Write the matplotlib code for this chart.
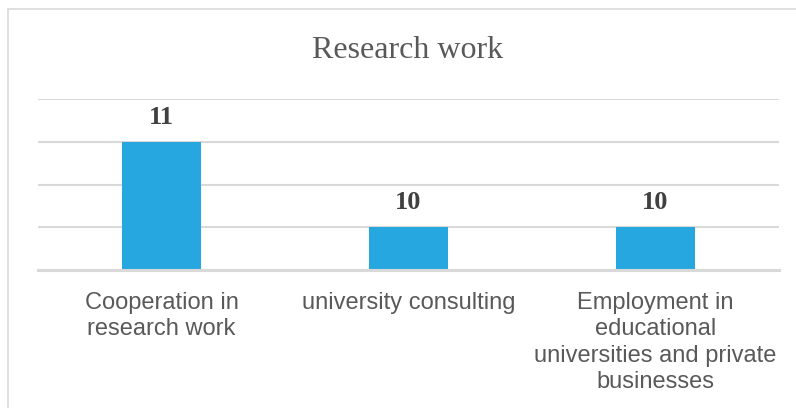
import matplotlib.pyplot as plt
from matplotlib.patches import Rectangle

categories = ["Cooperation in\nresearch work",
              "university consulting",
              "Employment in\neducational\nuniversities and private\nbusinesses"]
counts = [11, 10, 10]

fig = plt.figure(figsize=(7.96, 4.08), dpi=100)
fig.patches.append(Rectangle((8 / 796, -0.1), 1.2, 1 - 9 / 408 + 0.1,
                             transform=fig.transFigure, fill=False,
                             edgecolor="#d9d9d9", linewidth=1.2))

ax = fig.add_axes([38 / 796, 1 - 270 / 408, (779 - 38) / 796, (270 - 99) / 408])
x = range(len(counts))
bars = ax.bar(x, counts, width=0.316, color="#27a7df", zorder=3)

ax.set_xlim(-0.5, 2.5)
ax.set_ylim(9.5, 11.5)
ax.set_yticks([9.5, 10, 10.5, 11, 11.5])
ax.yaxis.grid(True, color="#d9d9d9", linewidth=1.5, zorder=0)
ax.tick_params(axis="y", left=False, labelleft=False)
ax.tick_params(axis="x", bottom=False, pad=12)
ax.set_xticks(list(x))
ax.set_xticklabels(categories, fontsize=17, color="#595959",
                   family="Liberation Sans", linespacing=1.27, va="top")
for s in ["top", "right", "left"]:
    ax.spines[s].set_visible(False)
ax.spines["bottom"].set_color("#d9d9d9")
ax.spines["bottom"].set_linewidth(2.2)
ax.spines["bottom"].set_zorder(4)

for b, v in zip(bars, counts):
    ax.annotate(str(v), (b.get_x() + b.get_width() / 2, v),
                xytext=(0, 13), textcoords="offset points",
                ha="center", va="baseline", fontsize=19, fontweight="bold",
                family="Liberation Serif", color="#404040")

fig.text(408 / 796, 1 - 58 / 408, "Research work", ha="center", va="baseline",
         fontsize=23, family="Liberation Serif", color="#595959")

fig.savefig("out.png", dpi=100)
